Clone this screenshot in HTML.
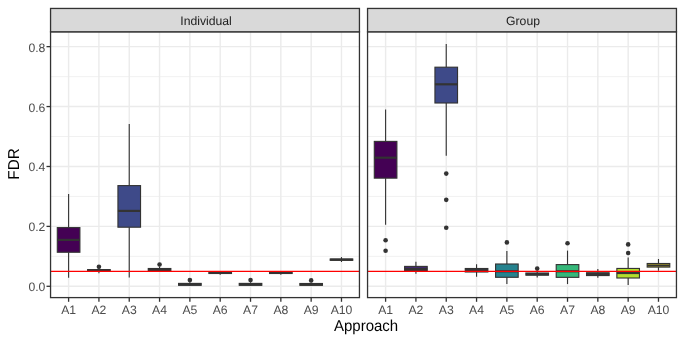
<!DOCTYPE html>
<html><head><meta charset="utf-8"><style>
html,body{margin:0;padding:0;background:#fff;}
svg{display:block;will-change:transform;text-rendering:geometricPrecision;font-family:"Liberation Sans",sans-serif;}
</style></head><body>
<svg width="685" height="343" viewBox="0 0 685 343">
<rect width="685" height="343" fill="#fff"/>
<rect x="50.55" y="31.8" width="308.90" height="265.80" fill="#fff"/>
<line x1="50.55" x2="359.45" y1="256.34" y2="256.34" stroke="#EBEBEB" stroke-width="0.7"/>
<line x1="50.55" x2="359.45" y1="196.43" y2="196.43" stroke="#EBEBEB" stroke-width="0.7"/>
<line x1="50.55" x2="359.45" y1="136.52" y2="136.52" stroke="#EBEBEB" stroke-width="0.7"/>
<line x1="50.55" x2="359.45" y1="76.61" y2="76.61" stroke="#EBEBEB" stroke-width="0.7"/>
<line x1="50.55" x2="359.45" y1="286.30" y2="286.30" stroke="#EBEBEB" stroke-width="1.4"/>
<line x1="50.55" x2="359.45" y1="226.39" y2="226.39" stroke="#EBEBEB" stroke-width="1.4"/>
<line x1="50.55" x2="359.45" y1="166.48" y2="166.48" stroke="#EBEBEB" stroke-width="1.4"/>
<line x1="50.55" x2="359.45" y1="106.56" y2="106.56" stroke="#EBEBEB" stroke-width="1.4"/>
<line x1="50.55" x2="359.45" y1="46.65" y2="46.65" stroke="#EBEBEB" stroke-width="1.4"/>
<line x1="68.60" x2="68.60" y1="31.8" y2="297.6" stroke="#EBEBEB" stroke-width="1.4"/>
<line x1="98.92" x2="98.92" y1="31.8" y2="297.6" stroke="#EBEBEB" stroke-width="1.4"/>
<line x1="129.24" x2="129.24" y1="31.8" y2="297.6" stroke="#EBEBEB" stroke-width="1.4"/>
<line x1="159.56" x2="159.56" y1="31.8" y2="297.6" stroke="#EBEBEB" stroke-width="1.4"/>
<line x1="189.88" x2="189.88" y1="31.8" y2="297.6" stroke="#EBEBEB" stroke-width="1.4"/>
<line x1="220.20" x2="220.20" y1="31.8" y2="297.6" stroke="#EBEBEB" stroke-width="1.4"/>
<line x1="250.52" x2="250.52" y1="31.8" y2="297.6" stroke="#EBEBEB" stroke-width="1.4"/>
<line x1="280.84" x2="280.84" y1="31.8" y2="297.6" stroke="#EBEBEB" stroke-width="1.4"/>
<line x1="311.16" x2="311.16" y1="31.8" y2="297.6" stroke="#EBEBEB" stroke-width="1.4"/>
<line x1="341.48" x2="341.48" y1="31.8" y2="297.6" stroke="#EBEBEB" stroke-width="1.4"/>
<rect x="367.55" y="31.8" width="308.90" height="265.80" fill="#fff"/>
<line x1="367.55" x2="676.45" y1="256.34" y2="256.34" stroke="#EBEBEB" stroke-width="0.7"/>
<line x1="367.55" x2="676.45" y1="196.43" y2="196.43" stroke="#EBEBEB" stroke-width="0.7"/>
<line x1="367.55" x2="676.45" y1="136.52" y2="136.52" stroke="#EBEBEB" stroke-width="0.7"/>
<line x1="367.55" x2="676.45" y1="76.61" y2="76.61" stroke="#EBEBEB" stroke-width="0.7"/>
<line x1="367.55" x2="676.45" y1="286.30" y2="286.30" stroke="#EBEBEB" stroke-width="1.4"/>
<line x1="367.55" x2="676.45" y1="226.39" y2="226.39" stroke="#EBEBEB" stroke-width="1.4"/>
<line x1="367.55" x2="676.45" y1="166.48" y2="166.48" stroke="#EBEBEB" stroke-width="1.4"/>
<line x1="367.55" x2="676.45" y1="106.56" y2="106.56" stroke="#EBEBEB" stroke-width="1.4"/>
<line x1="367.55" x2="676.45" y1="46.65" y2="46.65" stroke="#EBEBEB" stroke-width="1.4"/>
<line x1="385.60" x2="385.60" y1="31.8" y2="297.6" stroke="#EBEBEB" stroke-width="1.4"/>
<line x1="415.92" x2="415.92" y1="31.8" y2="297.6" stroke="#EBEBEB" stroke-width="1.4"/>
<line x1="446.24" x2="446.24" y1="31.8" y2="297.6" stroke="#EBEBEB" stroke-width="1.4"/>
<line x1="476.56" x2="476.56" y1="31.8" y2="297.6" stroke="#EBEBEB" stroke-width="1.4"/>
<line x1="506.88" x2="506.88" y1="31.8" y2="297.6" stroke="#EBEBEB" stroke-width="1.4"/>
<line x1="537.20" x2="537.20" y1="31.8" y2="297.6" stroke="#EBEBEB" stroke-width="1.4"/>
<line x1="567.52" x2="567.52" y1="31.8" y2="297.6" stroke="#EBEBEB" stroke-width="1.4"/>
<line x1="597.84" x2="597.84" y1="31.8" y2="297.6" stroke="#EBEBEB" stroke-width="1.4"/>
<line x1="628.16" x2="628.16" y1="31.8" y2="297.6" stroke="#EBEBEB" stroke-width="1.4"/>
<line x1="658.48" x2="658.48" y1="31.8" y2="297.6" stroke="#EBEBEB" stroke-width="1.4"/>
<line x1="68.60" x2="68.60" y1="193.9" y2="227.6" stroke="#333" stroke-width="1.12"/><line x1="68.60" x2="68.60" y1="252.25" y2="277.8" stroke="#333" stroke-width="1.12"/><rect x="57.30" y="227.6" width="22.60" height="24.65" fill="#440154" stroke="#333" stroke-width="1.12"/><line x1="57.30" x2="79.90" y1="239.9" y2="239.9" stroke="#333" stroke-width="2.2"/>
<line x1="98.92" x2="98.92" y1="268.0" y2="269.6" stroke="#333" stroke-width="1.12"/><line x1="98.92" x2="98.92" y1="271.0" y2="273.3" stroke="#333" stroke-width="1.12"/><rect x="87.62" y="269.6" width="22.60" height="1.40" fill="#482878" stroke="#333" stroke-width="1.12"/><line x1="87.62" x2="110.22" y1="270.5" y2="270.5" stroke="#333" stroke-width="2.2"/><circle cx="98.92" cy="266.8" r="2.3" fill="#333"/>
<line x1="129.24" x2="129.24" y1="123.9" y2="185.6" stroke="#333" stroke-width="1.12"/><line x1="129.24" x2="129.24" y1="227.2" y2="277.6" stroke="#333" stroke-width="1.12"/><rect x="117.94" y="185.6" width="22.60" height="41.60" fill="#3E4A89" stroke="#333" stroke-width="1.12"/><line x1="117.94" x2="140.54" y1="210.9" y2="210.9" stroke="#333" stroke-width="2.2"/>
<line x1="159.56" x2="159.56" y1="266.6" y2="268.5" stroke="#333" stroke-width="1.12"/><line x1="159.56" x2="159.56" y1="270.6" y2="271.5" stroke="#333" stroke-width="1.12"/><rect x="148.26" y="268.5" width="22.60" height="2.10" fill="#31688E" stroke="#333" stroke-width="1.12"/><line x1="148.26" x2="170.86" y1="269.7" y2="269.7" stroke="#333" stroke-width="2.2"/><circle cx="159.56" cy="264.45" r="2.3" fill="#333"/>
<line x1="189.88" x2="189.88" y1="282.3" y2="283.4" stroke="#333" stroke-width="1.12"/><line x1="189.88" x2="189.88" y1="285.3" y2="286.0" stroke="#333" stroke-width="1.12"/><rect x="178.58" y="283.4" width="22.60" height="1.90" fill="#26828E" stroke="#333" stroke-width="1.12"/><line x1="178.58" x2="201.18" y1="284.4" y2="284.4" stroke="#333" stroke-width="2.2"/><circle cx="189.88" cy="280.1" r="2.3" fill="#333"/>
<line x1="220.20" x2="220.20" y1="271.0" y2="272.0" stroke="#333" stroke-width="1.12"/><line x1="220.20" x2="220.20" y1="273.5" y2="274.7" stroke="#333" stroke-width="1.12"/><rect x="208.90" y="272.0" width="22.60" height="1.50" fill="#1F9E89" stroke="#333" stroke-width="1.12"/><line x1="208.90" x2="231.50" y1="272.9" y2="272.9" stroke="#333" stroke-width="2.2"/>
<line x1="250.52" x2="250.52" y1="282.3" y2="283.4" stroke="#333" stroke-width="1.12"/><line x1="250.52" x2="250.52" y1="285.3" y2="286.0" stroke="#333" stroke-width="1.12"/><rect x="239.22" y="283.4" width="22.60" height="1.90" fill="#35B779" stroke="#333" stroke-width="1.12"/><line x1="239.22" x2="261.82" y1="284.4" y2="284.4" stroke="#333" stroke-width="2.2"/><circle cx="250.52" cy="280.1" r="2.3" fill="#333"/>
<line x1="280.84" x2="280.84" y1="271.0" y2="272.0" stroke="#333" stroke-width="1.12"/><line x1="280.84" x2="280.84" y1="273.5" y2="274.7" stroke="#333" stroke-width="1.12"/><rect x="269.54" y="272.0" width="22.60" height="1.50" fill="#6DCD59" stroke="#333" stroke-width="1.12"/><line x1="269.54" x2="292.14" y1="272.9" y2="272.9" stroke="#333" stroke-width="2.2"/>
<line x1="311.16" x2="311.16" y1="282.5" y2="283.5" stroke="#333" stroke-width="1.12"/><line x1="311.16" x2="311.16" y1="285.3" y2="286.0" stroke="#333" stroke-width="1.12"/><rect x="299.86" y="283.5" width="22.60" height="1.80" fill="#B4DE2C" stroke="#333" stroke-width="1.12"/><line x1="299.86" x2="322.46" y1="284.5" y2="284.5" stroke="#333" stroke-width="2.2"/><circle cx="311.16" cy="280.4" r="2.3" fill="#333"/>
<line x1="341.48" x2="341.48" y1="257.1" y2="259.05" stroke="#333" stroke-width="1.12"/><line x1="341.48" x2="341.48" y1="260.3" y2="262.0" stroke="#333" stroke-width="1.12"/><rect x="330.18" y="259.05" width="22.60" height="1.25" fill="#FDE725" stroke="#333" stroke-width="1.12"/><line x1="330.18" x2="352.78" y1="259.65" y2="259.65" stroke="#333" stroke-width="2.2"/>
<line x1="385.60" x2="385.60" y1="109.45" y2="141.4" stroke="#333" stroke-width="1.12"/><line x1="385.60" x2="385.60" y1="178.15" y2="224.7" stroke="#333" stroke-width="1.12"/><rect x="374.30" y="141.4" width="22.60" height="36.75" fill="#440154" stroke="#333" stroke-width="1.12"/><line x1="374.30" x2="396.90" y1="157.7" y2="157.7" stroke="#333" stroke-width="2.2"/><circle cx="385.60" cy="240.2" r="2.3" fill="#333"/><circle cx="385.60" cy="250.8" r="2.3" fill="#333"/>
<line x1="415.92" x2="415.92" y1="261.8" y2="266.4" stroke="#333" stroke-width="1.12"/><line x1="415.92" x2="415.92" y1="270.6" y2="273.7" stroke="#333" stroke-width="1.12"/><rect x="404.62" y="266.4" width="22.60" height="4.20" fill="#482878" stroke="#333" stroke-width="1.12"/><line x1="404.62" x2="427.22" y1="268.95" y2="268.95" stroke="#333" stroke-width="2.2"/>
<line x1="446.24" x2="446.24" y1="44.1" y2="67.2" stroke="#333" stroke-width="1.12"/><line x1="446.24" x2="446.24" y1="103.0" y2="155.7" stroke="#333" stroke-width="1.12"/><rect x="434.94" y="67.2" width="22.60" height="35.80" fill="#3E4A89" stroke="#333" stroke-width="1.12"/><line x1="434.94" x2="457.54" y1="84.3" y2="84.3" stroke="#333" stroke-width="2.2"/><circle cx="446.24" cy="173.6" r="2.3" fill="#333"/><circle cx="446.24" cy="199.85" r="2.3" fill="#333"/><circle cx="446.24" cy="227.7" r="2.3" fill="#333"/>
<line x1="476.56" x2="476.56" y1="264.3" y2="268.5" stroke="#333" stroke-width="1.12"/><line x1="476.56" x2="476.56" y1="272.0" y2="276.65" stroke="#333" stroke-width="1.12"/><rect x="465.26" y="268.5" width="22.60" height="3.50" fill="#31688E" stroke="#333" stroke-width="1.12"/><line x1="465.26" x2="487.86" y1="270.2" y2="270.2" stroke="#333" stroke-width="2.2"/>
<line x1="506.88" x2="506.88" y1="250.9" y2="264.0" stroke="#333" stroke-width="1.12"/><line x1="506.88" x2="506.88" y1="277.3" y2="283.9" stroke="#333" stroke-width="1.12"/><rect x="495.58" y="264.0" width="22.60" height="13.30" fill="#26828E" stroke="#333" stroke-width="1.12"/><line x1="495.58" x2="518.18" y1="271.3" y2="271.3" stroke="#333" stroke-width="2.2"/><circle cx="506.88" cy="242.4" r="2.3" fill="#333"/>
<line x1="537.20" x2="537.20" y1="271.5" y2="273.0" stroke="#333" stroke-width="1.12"/><line x1="537.20" x2="537.20" y1="275.2" y2="277.6" stroke="#333" stroke-width="1.12"/><rect x="525.90" y="273.0" width="22.60" height="2.20" fill="#1F9E89" stroke="#333" stroke-width="1.12"/><line x1="525.90" x2="548.50" y1="274.1" y2="274.1" stroke="#333" stroke-width="2.2"/><circle cx="537.20" cy="268.6" r="2.3" fill="#333"/>
<line x1="567.52" x2="567.52" y1="250.6" y2="264.6" stroke="#333" stroke-width="1.12"/><line x1="567.52" x2="567.52" y1="277.35" y2="284.05" stroke="#333" stroke-width="1.12"/><rect x="556.22" y="264.6" width="22.60" height="12.75" fill="#35B779" stroke="#333" stroke-width="1.12"/><line x1="556.22" x2="578.82" y1="271.3" y2="271.3" stroke="#333" stroke-width="2.2"/><circle cx="567.52" cy="243.25" r="2.3" fill="#333"/>
<line x1="597.84" x2="597.84" y1="269.0" y2="272.75" stroke="#333" stroke-width="1.12"/><line x1="597.84" x2="597.84" y1="275.55" y2="277.75" stroke="#333" stroke-width="1.12"/><rect x="586.54" y="272.75" width="22.60" height="2.80" fill="#6DCD59" stroke="#333" stroke-width="1.12"/><line x1="586.54" x2="609.14" y1="274.0" y2="274.0" stroke="#333" stroke-width="2.2"/>
<line x1="628.16" x2="628.16" y1="257.6" y2="268.45" stroke="#333" stroke-width="1.12"/><line x1="628.16" x2="628.16" y1="278.0" y2="284.9" stroke="#333" stroke-width="1.12"/><rect x="616.86" y="268.45" width="22.60" height="9.55" fill="#B4DE2C" stroke="#333" stroke-width="1.12"/><line x1="616.86" x2="639.46" y1="273.0" y2="273.0" stroke="#333" stroke-width="2.2"/><circle cx="628.16" cy="244.4" r="2.3" fill="#333"/><circle cx="628.16" cy="253.0" r="2.3" fill="#333"/>
<line x1="658.48" x2="658.48" y1="259.0" y2="263.5" stroke="#333" stroke-width="1.12"/><line x1="658.48" x2="658.48" y1="267.1" y2="270.7" stroke="#333" stroke-width="1.12"/><rect x="647.18" y="263.5" width="22.60" height="3.60" fill="#FDE725" stroke="#333" stroke-width="1.12"/><line x1="647.18" x2="669.78" y1="265.5" y2="265.5" stroke="#333" stroke-width="2.2"/>
<line x1="50.55" x2="359.45" y1="271.4" y2="271.4" stroke="#FF0000" stroke-width="1.25"/>
<line x1="367.55" x2="676.45" y1="271.4" y2="271.4" stroke="#FF0000" stroke-width="1.25"/>
<rect x="50.55" y="31.8" width="308.90" height="265.80" fill="none" stroke="#333333" stroke-width="1.3"/>
<rect x="50.55" y="8.45" width="308.90" height="23.35" fill="#D9D9D9" stroke="#333333" stroke-width="1.3"/>
<rect x="367.55" y="31.8" width="308.90" height="265.80" fill="none" stroke="#333333" stroke-width="1.3"/>
<rect x="367.55" y="8.45" width="308.90" height="23.35" fill="#D9D9D9" stroke="#333333" stroke-width="1.3"/>
<text x="206.00" y="25.2" font-size="12.2" fill="#1A1A1A" text-anchor="middle">Individual</text>
<text x="523.00" y="25.2" font-size="12.2" fill="#1A1A1A" text-anchor="middle">Group</text>
<line x1="46.5" x2="50.55" y1="286.30" y2="286.30" stroke="#333333" stroke-width="1.3"/>
<text x="45.4" y="291.30" font-size="12.2" fill="#4D4D4D" text-anchor="end">0.0</text>
<line x1="46.5" x2="50.55" y1="226.39" y2="226.39" stroke="#333333" stroke-width="1.3"/>
<text x="45.4" y="231.39" font-size="12.2" fill="#4D4D4D" text-anchor="end">0.2</text>
<line x1="46.5" x2="50.55" y1="166.48" y2="166.48" stroke="#333333" stroke-width="1.3"/>
<text x="45.4" y="171.48" font-size="12.2" fill="#4D4D4D" text-anchor="end">0.4</text>
<line x1="46.5" x2="50.55" y1="106.56" y2="106.56" stroke="#333333" stroke-width="1.3"/>
<text x="45.4" y="111.56" font-size="12.2" fill="#4D4D4D" text-anchor="end">0.6</text>
<line x1="46.5" x2="50.55" y1="46.65" y2="46.65" stroke="#333333" stroke-width="1.3"/>
<text x="45.4" y="51.65" font-size="12.2" fill="#4D4D4D" text-anchor="end">0.8</text>
<line x1="68.60" x2="68.60" y1="297.6" y2="301.8" stroke="#333333" stroke-width="1.3"/>
<text x="68.60" y="313.8" font-size="12.2" fill="#4D4D4D" text-anchor="middle">A1</text>
<line x1="98.92" x2="98.92" y1="297.6" y2="301.8" stroke="#333333" stroke-width="1.3"/>
<text x="98.92" y="313.8" font-size="12.2" fill="#4D4D4D" text-anchor="middle">A2</text>
<line x1="129.24" x2="129.24" y1="297.6" y2="301.8" stroke="#333333" stroke-width="1.3"/>
<text x="129.24" y="313.8" font-size="12.2" fill="#4D4D4D" text-anchor="middle">A3</text>
<line x1="159.56" x2="159.56" y1="297.6" y2="301.8" stroke="#333333" stroke-width="1.3"/>
<text x="159.56" y="313.8" font-size="12.2" fill="#4D4D4D" text-anchor="middle">A4</text>
<line x1="189.88" x2="189.88" y1="297.6" y2="301.8" stroke="#333333" stroke-width="1.3"/>
<text x="189.88" y="313.8" font-size="12.2" fill="#4D4D4D" text-anchor="middle">A5</text>
<line x1="220.20" x2="220.20" y1="297.6" y2="301.8" stroke="#333333" stroke-width="1.3"/>
<text x="220.20" y="313.8" font-size="12.2" fill="#4D4D4D" text-anchor="middle">A6</text>
<line x1="250.52" x2="250.52" y1="297.6" y2="301.8" stroke="#333333" stroke-width="1.3"/>
<text x="250.52" y="313.8" font-size="12.2" fill="#4D4D4D" text-anchor="middle">A7</text>
<line x1="280.84" x2="280.84" y1="297.6" y2="301.8" stroke="#333333" stroke-width="1.3"/>
<text x="280.84" y="313.8" font-size="12.2" fill="#4D4D4D" text-anchor="middle">A8</text>
<line x1="311.16" x2="311.16" y1="297.6" y2="301.8" stroke="#333333" stroke-width="1.3"/>
<text x="311.16" y="313.8" font-size="12.2" fill="#4D4D4D" text-anchor="middle">A9</text>
<line x1="341.48" x2="341.48" y1="297.6" y2="301.8" stroke="#333333" stroke-width="1.3"/>
<text x="341.48" y="313.8" font-size="12.2" fill="#4D4D4D" text-anchor="middle">A10</text>
<line x1="385.60" x2="385.60" y1="297.6" y2="301.8" stroke="#333333" stroke-width="1.3"/>
<text x="385.60" y="313.8" font-size="12.2" fill="#4D4D4D" text-anchor="middle">A1</text>
<line x1="415.92" x2="415.92" y1="297.6" y2="301.8" stroke="#333333" stroke-width="1.3"/>
<text x="415.92" y="313.8" font-size="12.2" fill="#4D4D4D" text-anchor="middle">A2</text>
<line x1="446.24" x2="446.24" y1="297.6" y2="301.8" stroke="#333333" stroke-width="1.3"/>
<text x="446.24" y="313.8" font-size="12.2" fill="#4D4D4D" text-anchor="middle">A3</text>
<line x1="476.56" x2="476.56" y1="297.6" y2="301.8" stroke="#333333" stroke-width="1.3"/>
<text x="476.56" y="313.8" font-size="12.2" fill="#4D4D4D" text-anchor="middle">A4</text>
<line x1="506.88" x2="506.88" y1="297.6" y2="301.8" stroke="#333333" stroke-width="1.3"/>
<text x="506.88" y="313.8" font-size="12.2" fill="#4D4D4D" text-anchor="middle">A5</text>
<line x1="537.20" x2="537.20" y1="297.6" y2="301.8" stroke="#333333" stroke-width="1.3"/>
<text x="537.20" y="313.8" font-size="12.2" fill="#4D4D4D" text-anchor="middle">A6</text>
<line x1="567.52" x2="567.52" y1="297.6" y2="301.8" stroke="#333333" stroke-width="1.3"/>
<text x="567.52" y="313.8" font-size="12.2" fill="#4D4D4D" text-anchor="middle">A7</text>
<line x1="597.84" x2="597.84" y1="297.6" y2="301.8" stroke="#333333" stroke-width="1.3"/>
<text x="597.84" y="313.8" font-size="12.2" fill="#4D4D4D" text-anchor="middle">A8</text>
<line x1="628.16" x2="628.16" y1="297.6" y2="301.8" stroke="#333333" stroke-width="1.3"/>
<text x="628.16" y="313.8" font-size="12.2" fill="#4D4D4D" text-anchor="middle">A9</text>
<line x1="658.48" x2="658.48" y1="297.6" y2="301.8" stroke="#333333" stroke-width="1.3"/>
<text x="658.48" y="313.8" font-size="12.2" fill="#4D4D4D" text-anchor="middle">A10</text>
<text transform="translate(366.1,330.75) scale(0.95,1)" x="0" y="0" font-size="15.8" fill="#000" text-anchor="middle">Approach</text>
<text transform="translate(18.75,164.0) rotate(-90) scale(0.965,1)" x="0" y="0" font-size="15.8" fill="#000" text-anchor="middle">FDR</text>
</svg>
</body></html>
